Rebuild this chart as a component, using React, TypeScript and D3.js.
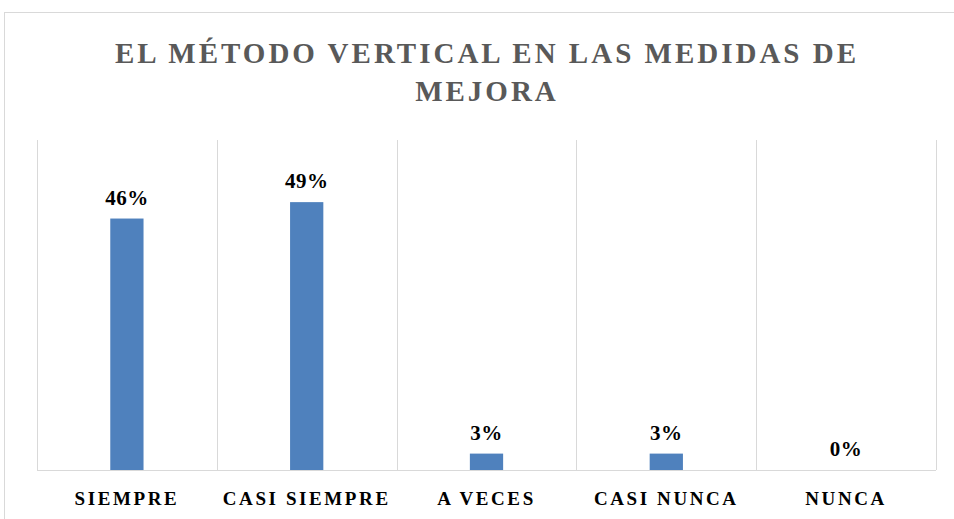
import { useEffect, useRef } from "react";
import * as d3 from "d3";

const categories = ["SIEMPRE", "CASI SIEMPRE", "A VECES", "CASI NUNCA", "NUNCA"];
const values = [0.46, 0.49, 0.03, 0.03, 0];
const valueLabels = ["46%", "49%", "3%", "3%", "0%"];
const titleLines = ["EL MÉTODO VERTICAL EN LAS MEDIDAS DE", "MEJORA"];

const W = 954;
const H = 519;

export default function App() {
  const svgRef = useRef<SVGSVGElement>(null);

  useEffect(() => {
    document.body.style.margin = "0";
    const svg = d3.select(svgRef.current);
    svg.selectAll("*").remove();

    const margin = { top: 142, right: 18, bottom: 49, left: 37 };
    const font = "'Liberation Serif', 'DejaVu Serif', serif";

    // chart frame
    svg
      .append("rect")
      .attr("x", 4.5)
      .attr("y", 12.5)
      .attr("width", W + 10)
      .attr("height", H + 10)
      .attr("fill", "white")
      .attr("stroke", "#d9d9d9");

    const x = d3
      .scaleBand()
      .domain(categories)
      .range([margin.left, W - margin.right])
      .paddingInner(0.815)
      .paddingOuter(0.4075);
    const xb = d3
      .scaleBand()
      .domain(categories)
      .range([margin.left, W - margin.right]);
    const y = d3
      .scaleLinear()
      .domain([0, 0.6])
      .range([H - margin.bottom, margin.top]);

    // vertical gridlines at category boundaries
    const bounds = categories.map((c) => xb(c)!).concat([W - margin.right]);
    svg
      .append("g")
      .selectAll("line")
      .data(bounds)
      .join("line")
      .attr("x1", (d) => Math.round(d) + 0.5)
      .attr("x2", (d) => Math.round(d) + 0.5)
      .attr("y1", margin.top - 2)
      .attr("y2", H - margin.bottom)
      .attr("stroke", "#d9d9d9");

    // baseline
    svg
      .append("line")
      .attr("x1", margin.left)
      .attr("x2", W - margin.right)
      .attr("y1", y(0) + 0.5)
      .attr("y2", y(0) + 0.5)
      .attr("stroke", "#d9d9d9");

    svg
      .append("g")
      .selectAll("rect")
      .data(values)
      .join("rect")
      .attr("x", (d, i) => x(categories[i])!)
      .attr("width", x.bandwidth())
      .attr("y", (d) => y(d))
      .attr("height", (d) => y(0) - y(d))
      .attr("fill", "#4f81bd");

    svg
      .append("g")
      .selectAll("text")
      .data(values)
      .join("text")
      .attr("x", (d, i) => xb(categories[i])! + xb.bandwidth() / 2)
      .attr("y", (d) => y(d) - 14)
      .attr("text-anchor", "middle")
      .attr("font-family", font)
      .attr("font-weight", "bold")
      .attr("font-size", 21)
      .attr("letter-spacing", 0.5)
      .attr("fill", "#000")
      .text((d, i) => valueLabels[i]);

    // category axis labels
    svg
      .append("g")
      .selectAll("text")
      .data(categories)
      .join("text")
      .attr("x", (d) => xb(d)! + xb.bandwidth() / 2)
      .attr("y", H - 14)
      .attr("text-anchor", "middle")
      .attr("font-family", font)
      .attr("font-weight", "bold")
      .attr("font-size", 19)
      .attr("letter-spacing", 2.6)
      .attr("fill", "#000")
      .text((d) => d);

    svg
      .append("g")
      .selectAll("text")
      .data(titleLines)
      .join("text")
      .attr("x", 487)
      .attr("y", (d, i) => 63 + i * 38)
      .attr("text-anchor", "middle")
      .attr("font-family", font)
      .attr("font-weight", "bold")
      .attr("font-size", 29)
      .attr("letter-spacing", 3.0)
      .attr("fill", "#595959")
      .text((d) => d);
  }, []);

  return <svg ref={svgRef} width={W} height={H} style={{ display: "block" }} />;
}
